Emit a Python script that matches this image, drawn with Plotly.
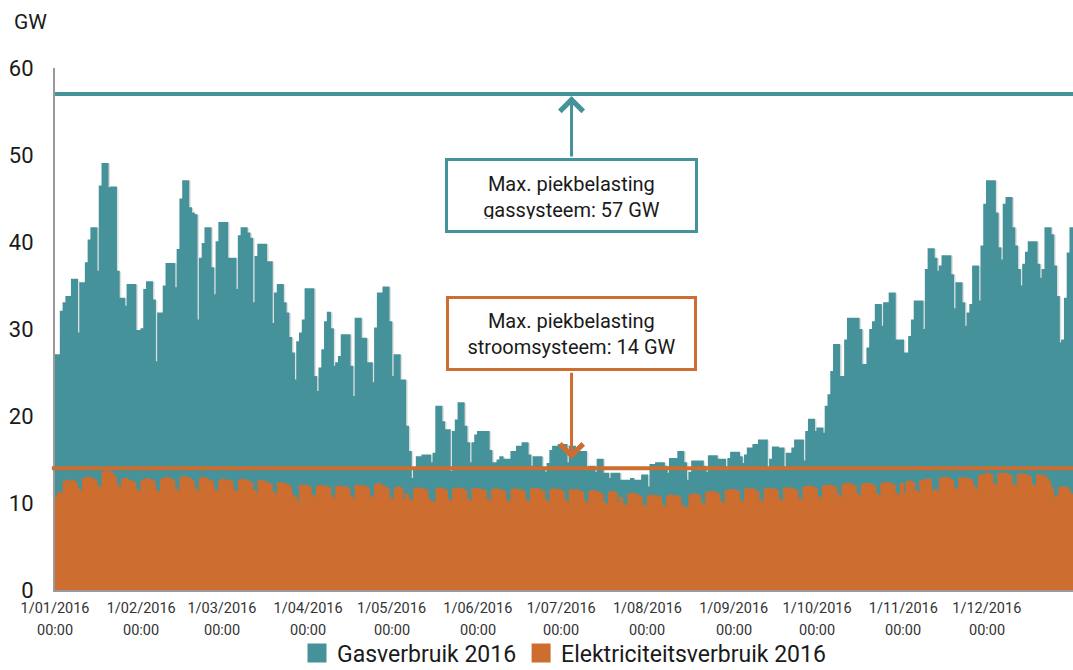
import pandas as pd
import plotly.graph_objects as go

# ---- Data: daily peak values (GW) ----
GAS_JAN = [27, 27, 32, 33, 33.7, 33.7, 35.7, 35.7, 29.5, 35.3, 35.3, 37.6, 40.2, 41.6, 41.6, 36.6, 46.4, 49, 49, 46.2, 46.3, 46.3, 36.6, 33.5, 33.5, 32.6, 35.1, 35.1, 35.1, 29.8, 29.8]
GAS_FEB = [30, 34.5, 35.4, 35.4, 33.3, 26.2, 31.8, 31.8, 34.9, 37.5, 37.5, 37.5, 34.7, 39.1, 44.9, 47, 47, 43.9, 43.3, 43.1, 31, 38.1, 39.8, 41.6, 41.6, 37, 33.9, 40, 42.2]
GAS_MAR = [42.2, 42.2, 38.1, 38.1, 38.1, 34.5, 40.7, 41.6, 41.6, 41, 40.4, 33, 38.3, 39.7, 39.7, 39.7, 37.7, 37.7, 30.6, 34.1, 35.1, 35.1, 33, 31.8, 29, 27.2, 24.1, 28.5, 29.5, 31, 34.6]
GAS_APR = [34.6, 34.6, 24.5, 22.8, 25.5, 27.6, 30.8, 31.9, 30, 25.7, 26.1, 26.8, 29.3, 29.3, 29.3, 25.7, 22.2, 31.2, 31.2, 28.9, 28.9, 26.1, 26.1, 23.8, 30.1, 34.1, 34.1, 34.8, 34.8, 30.8]
GAS_MAY = [24.5, 27, 27, 24.1, 24.1, 18.8, 15.9, 12.8, 13.8, 15.3, 15.3, 15.5, 15.5, 15.5, 14.6, 15.7, 21.1, 21.1, 19.3, 18.4, 18.4, 13.6, 18.2, 19.5, 21.5, 21.5, 18.8, 16.9, 14.6, 16.9, 17.8]
GAS_JUN = [18.2, 18.2, 18.2, 18.2, 16, 14.6, 14.6, 14.9, 15.3, 15, 15, 15, 15.9, 15.9, 16.5, 16.5, 16.9, 16.9, 15.5, 14.2, 15.3, 15.3, 15.3, 13.8, 13.5, 14.5, 16, 16.5, 16.5, 16.7]
GAS_JUL = [16.7, 16.7, 14.6, 16.5, 16.5, 15.9, 15.9, 15.9, 15.9, 14, 14.2, 14.2, 13.5, 15, 15, 13.4, 13.4, 12.8, 13.4, 13.4, 13.4, 12.6, 12.6, 12.6, 12.6, 12.8, 12.6, 12.6, 12.6, 13.2, 13.2]
GAS_AUG = [11.8, 14.4, 14.4, 14.6, 14.6, 14.6, 14.2, 13.4, 15.1, 15.1, 15.1, 15.9, 15.9, 14.6, 12.6, 13.5, 14.8, 14.8, 14.8, 14.8, 14.2, 13.5, 15.4, 15.4, 15.4, 15, 15, 15, 14, 15.1, 15.8]
GAS_SEP = [15.8, 15.8, 15.3, 14.5, 15.5, 16.3, 16.3, 16.7, 16.7, 17.2, 17.2, 17.2, 13.8, 15, 16.4, 16.4, 16.3, 16.3, 13.8, 15.7, 15.7, 16.3, 17.2, 17.2, 17.2, 14.8, 18.2, 19.6, 19.6, 18.2]
GAS_OCT = [18.6, 18.6, 18, 21.1, 22.4, 25.1, 28.2, 28.2, 24.5, 24.5, 28.7, 31.2, 31.2, 31.2, 31.2, 29.9, 25.9, 25.9, 27.8, 29.9, 30.8, 32.8, 32.8, 30.3, 33, 33, 34.1, 34.1, 28.7, 28.7, 28.7]
GAS_NOV = [27.2, 27.2, 29.1, 31, 33.2, 33.2, 33.2, 29.9, 36.8, 39.2, 39.2, 38.1, 36.6, 37.2, 38.4, 38.4, 38.4, 36.2, 32.3, 35.3, 35.3, 33, 30.3, 31.8, 32.8, 37.2, 37.2, 33.2, 39.5, 44.3]
GAS_DEC = [47, 47, 47, 43.3, 39.3, 37.9, 44.3, 45.1, 45.1, 41.6, 39.5, 36.8, 34.9, 37.4, 38.8, 40, 40, 40, 37.4, 35.8, 36.8, 41.6, 41.6, 40.8, 37.2, 33.7, 28.4, 28.7, 33.5, 38.7, 41.6]

EL_JAN = [10.6, 11.2, 11.0, 12.4, 12.6, 12.5, 12.6, 12.3, 11.6, 11.3, 12.8, 12.9, 12.9, 12.8, 12.6, 11.9, 11.7, 13.5, 13.7, 13.6, 13.4, 13.0, 12.0, 11.6, 12.7, 12.8, 12.6, 12.5, 12.3, 11.5, 11.2]
EL_FEB = [12.6, 12.7, 12.8, 12.6, 12.4, 11.4, 11.2, 12.7, 12.8, 12.9, 12.8, 12.5, 11.6, 11.3, 12.9, 13.0, 12.9, 12.8, 12.5, 11.6, 11.3, 12.8, 12.9, 12.8, 12.6, 12.4, 11.5, 11.2, 12.6]
EL_MAR = [12.7, 12.6, 12.6, 12.4, 11.4, 11.2, 12.6, 12.7, 12.6, 12.5, 12.3, 11.4, 11.0, 12.5, 12.6, 12.4, 12.3, 12.1, 11.2, 10.9, 12.3, 12.3, 12.2, 12.1, 11.8, 10.9, 10.6, 10.0, 12.0, 12.0, 12.0]
EL_APR = [11.8, 10.9, 10.6, 11.9, 12.0, 11.9, 11.9, 11.7, 10.8, 10.5, 11.9, 11.9, 11.8, 11.8, 11.6, 10.7, 10.4, 12.0, 12.0, 11.9, 11.9, 11.7, 10.8, 10.5, 12.1, 12.2, 12.0, 11.9, 11.6, 10.6]
EL_MAY = [10.2, 11.7, 11.8, 11.7, 10.3, 11.0, 10.4, 10.1, 11.6, 11.7, 11.6, 11.6, 11.4, 10.4, 10.1, 10.0, 11.6, 11.7, 11.6, 11.4, 10.4, 10.1, 11.6, 11.7, 11.6, 11.6, 11.4, 10.4, 10.1, 11.6, 11.6]
EL_JUN = [11.6, 11.5, 11.4, 10.4, 10.1, 11.5, 11.6, 11.5, 11.5, 11.3, 10.3, 10.0, 11.5, 11.6, 11.5, 11.5, 11.3, 10.3, 10.0, 11.6, 11.6, 11.6, 11.5, 11.3, 10.3, 10.0, 11.5, 11.6, 11.5, 11.5]
EL_JUL = [11.3, 10.3, 10.0, 11.5, 11.5, 11.5, 11.4, 11.2, 10.2, 9.9, 11.3, 11.4, 11.3, 11.2, 11.0, 10.0, 9.8, 11.2, 11.3, 11.2, 10.0, 10.6, 9.8, 9.6, 11.0, 11.1, 11.0, 10.9, 10.7, 9.7, 9.5]
EL_AUG = [10.8, 10.9, 10.8, 10.8, 10.6, 9.7, 9.5, 10.8, 10.9, 10.8, 10.8, 10.6, 9.7, 9.5, 9.4, 10.9, 11.0, 11.0, 10.8, 9.9, 9.7, 11.2, 11.3, 11.3, 11.2, 11.0, 10.1, 9.9, 11.4, 11.5, 11.5]
EL_SEP = [11.5, 11.3, 10.3, 10.0, 11.6, 11.6, 11.6, 11.5, 11.3, 10.3, 10.0, 11.6, 11.6, 11.6, 11.6, 11.4, 10.4, 10.1, 11.7, 11.7, 11.7, 11.6, 11.4, 10.5, 10.2, 11.8, 11.9, 11.9, 11.8, 11.6]
EL_OCT = [10.7, 10.4, 11.9, 12.0, 12.0, 11.9, 11.8, 10.9, 10.6, 12.1, 12.2, 12.2, 12.1, 11.9, 11.0, 10.7, 12.1, 12.2, 12.2, 12.1, 11.9, 11.0, 10.7, 12.2, 12.3, 12.3, 12.2, 12.0, 11.1, 10.8, 12.2]
EL_NOV = [11.0, 12.4, 12.5, 12.3, 11.4, 11.1, 12.6, 12.6, 12.7, 12.7, 11.3, 11.5, 11.2, 12.8, 12.9, 12.9, 12.8, 12.6, 11.7, 11.4, 12.8, 12.9, 12.8, 12.8, 12.6, 11.8, 11.5, 13.1, 13.2, 13.3]
EL_DEC = [13.4, 13.2, 12.2, 11.9, 13.3, 13.4, 13.4, 13.3, 13.1, 12.1, 11.8, 13.2, 13.3, 13.3, 13.2, 13.0, 12.1, 11.8, 13.2, 13.2, 13.1, 12.9, 12.4, 11.6, 10.6, 10.8, 11.8, 11.8, 11.8, 11.5, 11.0]

MAX_GAS = 57
MAX_POWER = 14
TICK_MONTHS = ["01", "02", "03", "04", "05", "06", "07", "08", "09", "10", "11", "12"]
TICK_TIME = "00:00"
SERIES_NAMES = ["Gasverbruik 2016", "Elektriciteitsverbruik 2016"]

TEAL = "#45929a"
ORANGE = "#cd6d30"
TEXT = "#1a1a1a"
FONT = "Roboto"

gas = (GAS_JAN + GAS_FEB + GAS_MAR + GAS_APR + GAS_MAY + GAS_JUN +
       GAS_JUL + GAS_AUG + GAS_SEP + GAS_OCT + GAS_NOV + GAS_DEC)
elec = (EL_JAN + EL_FEB + EL_MAR + EL_APR + EL_MAY + EL_JUN +
        EL_JUL + EL_AUG + EL_SEP + EL_OCT + EL_NOV + EL_DEC)

days = pd.date_range("2016-01-01", periods=len(gas) + 1, freq="D")
x = list(days)
gas_y = gas + [gas[-1]]
elec_y = elec + [elec[-1]]

fig = go.Figure()

# soft shadow behind the gas area
fig.add_trace(go.Scatter(
    x=[d + pd.Timedelta(hours=20) for d in x], y=gas_y, mode="lines",
    line=dict(width=0, shape="hv"), fill="tozeroy",
    fillcolor="rgba(0,0,0,0.12)", showlegend=False, hoverinfo="skip"))

fig.add_trace(go.Scatter(
    x=x, y=gas_y, mode="lines", name=SERIES_NAMES[0], showlegend=False,
    line=dict(color=TEAL, width=1.5, shape="hv"),
    fill="tozeroy", fillcolor=TEAL))

fig.add_trace(go.Scatter(
    x=x, y=elec_y, mode="lines", name=SERIES_NAMES[1], showlegend=False,
    line=dict(color=ORANGE, width=1.5, shape="hv"),
    fill="tozeroy", fillcolor=ORANGE))

# legend entries drawn as squares
for name, col in zip(SERIES_NAMES, [TEAL, ORANGE]):
    fig.add_trace(go.Scatter(
        x=[None], y=[None], mode="markers", name=name,
        marker=dict(symbol="square", size=16, color=col, line=dict(color=col, width=3))))

# capacity lines
fig.add_shape(type="line", xref="paper", x0=0, x1=1, yref="y", y0=MAX_GAS, y1=MAX_GAS,
              line=dict(color=TEAL, width=4), layer="above")
fig.add_shape(type="line", xref="paper", x0=-0.003, x1=1, yref="y", y0=MAX_POWER, y1=MAX_POWER,
              line=dict(color=ORANGE, width=4), layer="above")

box_x = 0.5074
# arrows
fig.add_annotation(x=box_x, xref="paper", y=MAX_GAS, yref="y", ax=0, ay=64, text="",
                   showarrow=True, arrowhead=4, arrowsize=1.5, arrowwidth=3,
                   arrowcolor=TEAL, standoff=2)
fig.add_annotation(x=box_x, xref="paper", y=MAX_POWER, yref="y", ax=0, ay=-97, text="",
                   showarrow=True, arrowhead=4, arrowsize=1.5, arrowwidth=3,
                   arrowcolor=ORANGE, standoff=9)

# label boxes (text clipped inside a padded region, like the original)
fig.add_annotation(x=box_x, xref="paper", y=45.34, yref="y",
                   text="Max. piekbelasting<br>gassysteem: " + str(MAX_GAS) + " GW",
                   showarrow=False, width=225, height=47, valign="top",
                   bgcolor="white", bordercolor=TEAL, borderwidth=3, borderpad=11,
                   font=dict(family=FONT, size=20, color=TEXT))
fig.add_annotation(x=box_x, xref="paper", y=29.54, yref="y",
                   text="Max. piekbelasting<br>stroomsysteem: " + str(MAX_POWER) + " GW",
                   showarrow=False, width=225, height=49, valign="top",
                   bgcolor="white", bordercolor=ORANGE, borderwidth=3, borderpad=10,
                   font=dict(family=FONT, size=20, color=TEXT))

# unit label
fig.add_annotation(x=-0.042, xref="paper", y=1.088, yref="paper", text="GW",
                   showarrow=False, xanchor="left", yanchor="middle",
                   font=dict(family=FONT, size=21, color=TEXT))

tickvals = [pd.Timestamp("2016-" + m + "-01") for m in TICK_MONTHS]
ticktext = ["1/" + m + "/2016" for m in TICK_MONTHS]

# second line of the date labels
for tv in tickvals:
    fig.add_annotation(x=tv, xref="x", y=-0.0785, yref="paper", text=TICK_TIME,
                       showarrow=False, xanchor="center", yanchor="middle",
                       font=dict(family=FONT, size=14.5, color="#333"))

fig.update_layout(
    width=1073, height=670,
    margin=dict(l=55, r=0, t=68, b=80, autoexpand=False),
    paper_bgcolor="white", plot_bgcolor="white",
    font=dict(family=FONT, color="#222"),
    showlegend=True,
    legend=dict(orientation="h", x=0.500, xanchor="center", y=-0.121, yanchor="middle",
                font=dict(family=FONT, size=23, color=TEXT),
                itemsizing="trace", itemwidth=30, tracegroupgap=0),
    xaxis=dict(range=[pd.Timestamp("2016-01-01"), pd.Timestamp("2017-01-01")],
               tickvals=tickvals, ticktext=ticktext, showgrid=False, automargin=False,
               showline=True, linecolor="#9a9a9a", linewidth=2, ticks="",
               ticklabelstandoff=4,
               tickfont=dict(family=FONT, size=14.5, color="#333"), zeroline=False),
    yaxis=dict(range=[0, 60], tickvals=[0, 10, 20, 30, 40, 50, 60], showgrid=False,
               showline=True, linecolor="#9a9a9a", linewidth=2, ticks="", automargin=False,
               tickfont=dict(family=FONT, size=22, color=TEXT),
               ticklabelstandoff=15, zeroline=False),
)

fig.write_html("out.html", config={"displayModeBar": False},
               post_script="document.body.style.margin='0';document.body.style.padding='0';")
